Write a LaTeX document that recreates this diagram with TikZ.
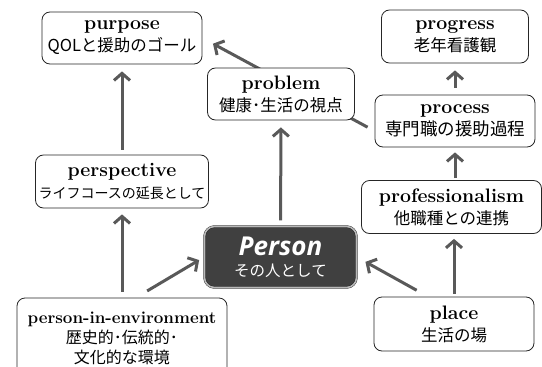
\documentclass[tikz,border=0pt]{standalone}
\usepackage{fontspec}
\newfontfamily\jpfont{Noto Sans CJK JP}
\newfontfamily\personfont{Open Sans}
\usetikzlibrary{arrows.meta,backgrounds}

\definecolor{arrowgray}{HTML}{595959}
\definecolor{persongray}{HTML}{404040}

\newcommand{\cardtitle}[2][19.5]{{\fontsize{#1}{22}\selectfont\bfseries #2}}
\newcommand{\cardsub}[2][16.5]{{\jpfont\fontsize{#1}{22}\selectfont #2}}

\tikzset{
card/.style={draw=black!85, fill=white, rounded corners=8pt, line width=0.8pt,
  align=center, inner sep=2pt, font=\fontsize{16.5}{22}\selectfont},
arr/.style={draw=arrowgray, line width=3pt, -{Straight Barb[length=7pt,width=16pt]}},
}

\begin{document}
\begin{tikzpicture}[x=1pt,y=-1pt]
\useasboundingbox (0,0) rectangle (542,367);
\clip (0,0) rectangle (542,367);

\node[card, minimum width=160pt, minimum height=52pt] (purpose) at (122,38)
{
\cardtitle{purpose} \\
\cardsub{QOLと援助のゴール}
};
\node[card, minimum width=147pt, minimum height=52pt] (problem) at (281,94)
{
\cardtitle{problem} \\
\cardsub{健康･生活の視点}
};
\node[card, minimum width=147pt, minimum height=53pt] (progress) at (455,36.5)
{
\cardtitle{progress} \\
\cardsub{老年看護観}
};
\node[card, minimum width=160pt, minimum height=52pt] (process) at (455,121)
{
\cardtitle{process} \\
\cardsub[17.5]{専門職の援助過程}
};
\node[card, minimum width=173pt, minimum height=53pt] (persp) at (122,181.5)
{
\cardtitle{perspective} \\
\cardsub[14]{ライフコースの延長として}
};
\node[card, minimum width=180pt, minimum height=53pt] (prof) at (451.5,207)
{
\cardtitle{professionalism} \\
\cardsub{他職種との連携}
};
\node[card, minimum width=160pt, minimum height=54pt] (place) at (454,324)
{
\cardtitle{place} \\
\cardsub{生活の場}
};
\node[card, minimum width=210pt, minimum height=80pt,
  font=\fontsize{16}{20}\selectfont] (pie) at (122,338)
{
\cardtitle[17]{person-in-environment} \\
\cardsub[16]{歴史的･伝統的･} \\
\cardsub[16]{文化的な環境}
};

\node[draw=black!90, double=gray!55, double distance=1.6pt, fill=persongray,
  rounded corners=10pt, minimum width=152pt, minimum height=61pt,
  align=center, text=white, font=\fontsize{15.5}{21}\selectfont] (person) at (280.5,257)
{
{\personfont\bfseries\itshape\fontsize{26}{28}\selectfont Person} \\
{\jpfont その人として}
};

% arrows
\begin{scope}[on background layer]
\path[arr, shorten <=8pt, shorten >=12pt] ([yshift=-10pt]process.west) -- (purpose.east);
\end{scope}
\path[arr, shorten <=5pt, shorten >=7pt] (persp) -- (purpose);
\path[arr, shorten <=6pt, shorten >=6pt] (pie) -- (persp);
\path[arr, shorten <=13pt, shorten >=6pt] ([xshift=14pt]pie.north) -- (person.west);
\path[arr, shorten <=13pt, shorten >=10pt] ([xshift=-26pt]place.north) -- (person.east);
\path[arr, shorten <=6pt, shorten >=7pt] (person) -- (problem);
\path[arr, shorten <=7pt, shorten >=7pt] (process) -- (progress);
\path[arr, shorten <=2pt, shorten >=5pt] (process.south |- prof.north) -- (process.south);
\path[arr, shorten <=3pt, shorten >=5pt] (place.north) -- (place.north |- prof.south);
\end{tikzpicture}
\end{document}
